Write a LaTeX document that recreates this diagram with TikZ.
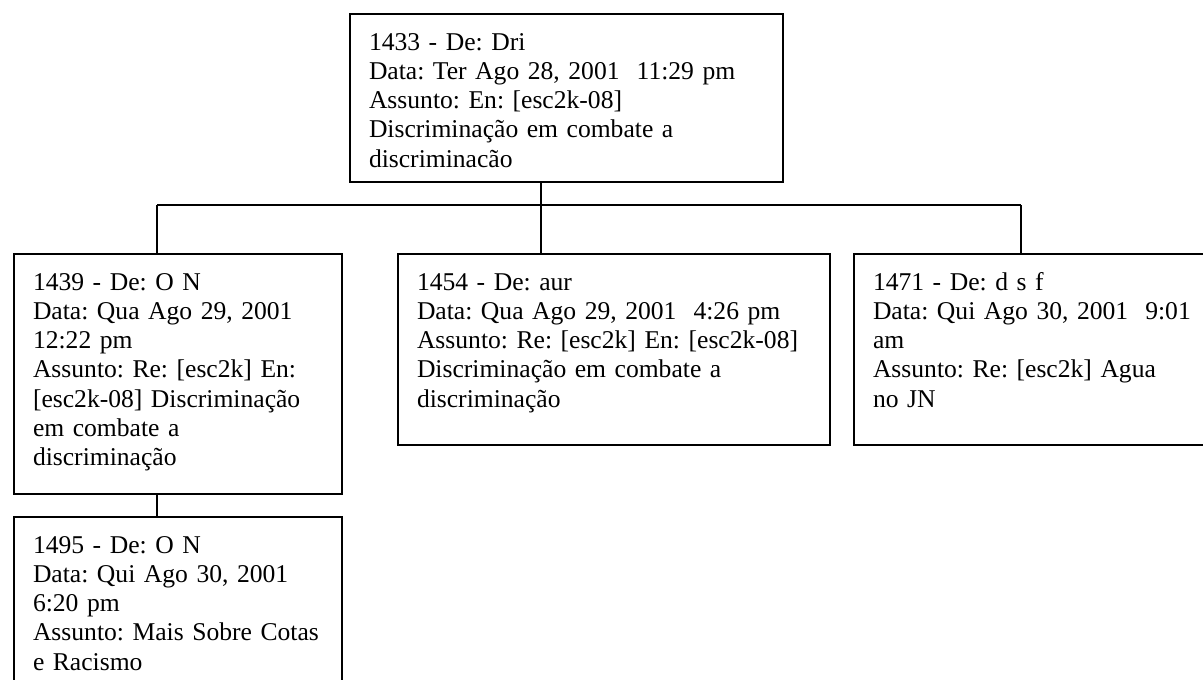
\documentclass[tikz,border=0pt]{standalone}
\usepackage{fontspec}
\setmainfont{Liberation Serif}

\newcommand{\postfont}{\fontsize{25.6pt}{29.3pt}\selectfont\frenchspacing\hyphenpenalty=10000\relax}

\tikzset{
  post/.style={draw, line width=2pt, anchor=north west, inner xsep=19pt, inner ysep=0pt,
    align=left, text height=36pt, font=\postfont},
  link/.style={line width=1.5pt}
}

\begin{document}
\begin{tikzpicture}[x=1pt,y=-1pt]
\useasboundingbox (0,0) rectangle (1203,680);
\clip (0,0) rectangle (1203,680);

\node[post, text width=395pt, text depth=132pt] (m1433) at (349,13)
  {1433 - De: Dri\\ Data: Ter Ago 28, 2001~ 11:29 pm\\ Assunto: En: [esc2k-08]\\
   Discriminação em combate a\\ discriminacão};

\node[post, text width=290pt, text depth=204pt] (m1439) at (13,253)
  {1439 - De: O N\\ Data: Qua Ago 29, 2001\\ 12:22 pm\\ Assunto: Re: [esc2k] En:\\
   {[}esc2k-08] Discriminação\\ em combate a\\ discriminação};
\node[post, text width=394pt, text depth=155pt] (m1454) at (397,253)
  {1454 - De: aur\\ Data: Qua Ago 29, 2001~ 4:26 pm\\ Assunto: Re: [esc2k] En: [esc2k-08]\\
   Discriminação em combate a\\ discriminação};
\node[post, text width=339pt, text depth=155pt] (m1471) at (853,253)
  {1471 - De: d s f\\ Data: Qui Ago 30, 2001~ 9:01\\ am\\ Assunto: Re: [esc2k] Agua\\ no JN};

\node[post, text width=290pt, text depth=170pt] (m1495) at (13,516)
  {1495 - De: O N\\ Data: Qui Ago 30, 2001\\ 6:20 pm\\ Assunto: Mais Sobre Cotas\\ e Racismo};

\coordinate (b1439) at (157,205);
\coordinate (b1454) at (541,205);
\coordinate (b1471) at (1021,205);

\draw[link] (b1439) -- (b1471);
\draw[link] (m1433.south -| b1454) -- (b1454) -- (m1454.north -| b1454);
\draw[link] (b1439) -- (m1439.north -| b1439);
\draw[link] (b1471) -- (m1471.north -| b1471);
\draw[link] (m1439.south -| b1439) -- (m1495.north -| b1439);
\end{tikzpicture}
\end{document}
